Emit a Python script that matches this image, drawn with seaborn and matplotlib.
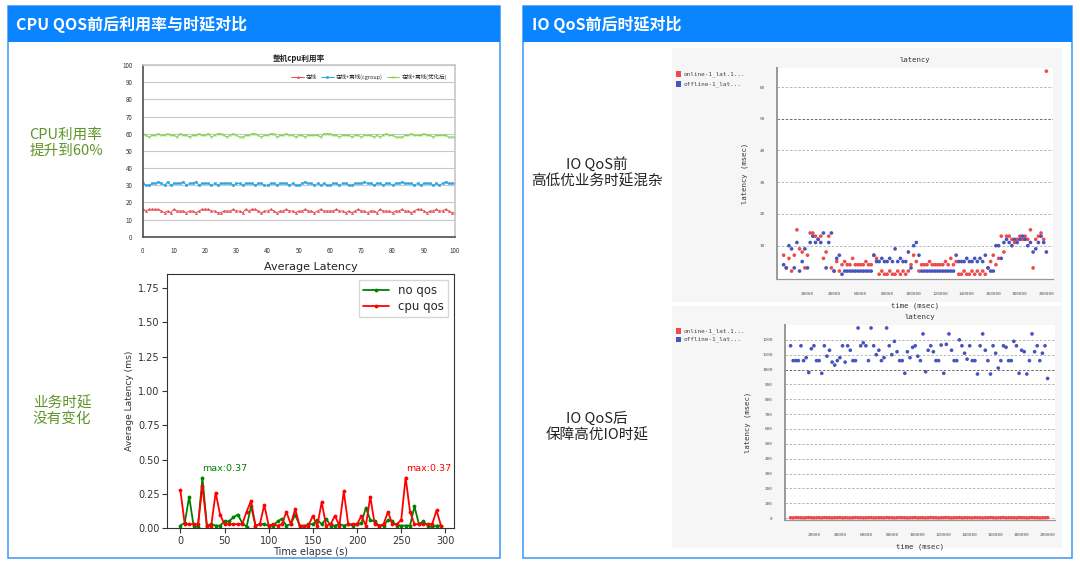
import numpy as np
import pandas as pd
import matplotlib.pyplot as plt
from matplotlib.patches import Rectangle
import seaborn as sns

W, H = 1080, 564

# -------------------------------
# data: cpu utilisation (percent), one sample per x step
# -------------------------------
cpu_x = list(range(101))
cpu_online = [16, 15, 16, 16, 16, 16, 15, 14, 15, 14,
              16, 15, 15, 15, 14, 15, 15, 14, 15, 16,
              16, 16, 15, 15, 14, 14, 15, 15, 15, 16,
              15, 15, 14, 16, 15, 16, 16, 15, 14, 15,
              15, 16, 15, 14, 15, 15, 16, 15, 15, 14,
              15, 15, 16, 15, 15, 14, 15, 16, 15, 15,
              15, 15, 16, 15, 15, 14, 15, 14, 15, 16,
              15, 15, 14, 15, 15, 14, 16, 15, 15, 15,
              14, 15, 15, 16, 15, 15, 14, 15, 16, 16,
              15, 14, 15, 15, 16, 15, 15, 16, 15, 14, 14]
cpu_cgroup = [31, 30, 30, 31, 31, 32, 31, 30, 32, 30,
              31, 31, 31, 32, 30, 31, 31, 32, 30, 31,
              31, 31, 30, 31, 30, 31, 31, 31, 31, 30,
              31, 31, 30, 31, 31, 31, 30, 31, 31, 30,
              30, 31, 31, 30, 31, 31, 31, 30, 31, 30,
              30, 31, 32, 31, 31, 30, 31, 30, 31, 30,
              30, 31, 31, 30, 31, 31, 30, 30, 31, 31,
              31, 32, 31, 31, 30, 31, 31, 30, 31, 31,
              30, 31, 31, 32, 31, 31, 31, 30, 31, 30,
              31, 31, 31, 30, 31, 30, 31, 32, 31, 31, 31]
cpu_optimized = [60, 59, 58, 59, 59, 60, 59, 59, 60, 59,
                 59, 58, 60, 59, 59, 58, 59, 59, 60, 59,
                 59, 60, 58, 59, 60, 60, 59, 58, 59, 60,
                 59, 58, 58, 59, 59, 60, 60, 59, 58, 59,
                 59, 60, 60, 58, 59, 59, 60, 59, 59, 58,
                 59, 59, 58, 59, 59, 59, 59, 58, 60, 60,
                 60, 59, 59, 58, 59, 59, 59, 58, 59, 59,
                 58, 59, 59, 59, 58, 59, 58, 59, 60, 59,
                 59, 58, 58, 58, 59, 59, 60, 59, 59, 59,
                 60, 59, 59, 58, 59, 59, 59, 59, 58, 58, 58]
cpu_labels = ['在线', '在线+离线(cgroup)', '在线+离线(优化后)']

# -------------------------------
# data: average latency (ms) every 5 s
# -------------------------------
lat_time = list(range(0, 300, 5))
lat_no_qos = [0.02, 0.04, 0.23, 0.02, 0.01, 0.37, 0.02, 0.03, 0.02, 0.02,
              0.05, 0.05, 0.08, 0.10, 0.04, 0.01, 0.16, 0.02, 0.03, 0.03,
              0.02, 0.02, 0.05, 0.07, 0.02, 0.03, 0.10, 0.02, 0.01, 0.03,
              0.03, 0.06, 0.03, 0.07, 0.02, 0.02, 0.03, 0.02, 0.03, 0.02,
              0.03, 0.04, 0.15, 0.06, 0.05, 0.02, 0.02, 0.06, 0.05, 0.02,
              0.02, 0.02, 0.02, 0.16, 0.03, 0.05, 0.02, 0.01, 0.02, 0.02]
lat_cpu_qos = [0.28, 0.03, 0.03, 0.03, 0.03, 0.31, 0.02, 0.02, 0.26, 0.10,
               0.03, 0.03, 0.03, 0.03, 0.03, 0.12, 0.20, 0.02, 0.03, 0.17,
               0.02, 0.03, 0.02, 0.03, 0.12, 0.03, 0.14, 0.02, 0.02, 0.02,
               0.09, 0.02, 0.19, 0.02, 0.03, 0.09, 0.02, 0.27, 0.03, 0.03,
               0.03, 0.09, 0.02, 0.23, 0.03, 0.02, 0.03, 0.12, 0.03, 0.03,
               0.06, 0.37, 0.12, 0.03, 0.03, 0.03, 0.03, 0.03, 0.13, 0.02]

# -------------------------------
# data: IO latency (msec), sampled every 2000 msec
# -------------------------------
io_time = list(range(2000, 200001, 2000))
io_online_before = [7, 3, 6, 2, 7, 15, 9, 8, 3, 7,
                    14, 14, 13, 12, 13, 6, 8, 13, 3, 2,
                    5, 2, 4, 5, 4, 4, 6, 4, 4, 4,
                    4, 5, 4, 4, 7, 6, 1, 2, 1, 1,
                    2, 1, 1, 2, 1, 2, 1, 2, 4, 7,
                    5, 2, 4, 4, 4, 5, 4, 4, 4, 4,
                    4, 5, 4, 6, 4, 5, 1, 1, 2, 1,
                    1, 2, 1, 2, 1, 2, 1, 3, 5, 7,
                    4, 6, 13, 8, 13, 13, 12, 11, 12, 13,
                    12, 13, 12, 15, 3, 12, 13, 14, 12, 65]
io_offline_before = [4, 3, 10, 9, 3, 11, 2, 5, 9, 3,
                     11, 13, 11, 12, 11, 14, 3, 11, 14, 2,
                     6, 7, 1, 2, 2, 2, 2, 2, 2, 2,
                     2, 2, 2, 2, 7, 5, 5, 6, 5, 5,
                     6, 5, 9, 5, 6, 5, 5, 8, 3, 10,
                     11, 7, 2, 2, 2, 2, 2, 2, 2, 2,
                     2, 2, 2, 2, 2, 7, 5, 5, 5, 6,
                     5, 5, 6, 5, 6, 5, 7, 3, 2, 2,
                     10, 10, 6, 11, 12, 11, 10, 12, 11, 12,
                     13, 12, 10, 11, 8, 9, 11, 13, 11, 8]
io_online_after = [2, 1, 3, 2, 2, 1, 2, 3, 2, 1,
                   2, 2, 1, 3, 2, 2, 1, 2, 2, 3,
                   1, 2, 2, 1, 2, 3, 2, 2, 1, 2,
                   2, 3, 1, 2, 2, 2, 1, 3, 2, 2,
                   1, 2, 3, 2, 2, 1, 2, 2, 3, 1,
                   2, 2, 1, 2, 3, 2, 2, 1, 2, 2,
                   3, 2, 1, 2, 2, 3, 1, 2, 2, 2,
                   1, 3, 2, 2, 1, 2, 2, 3, 2, 1,
                   2, 2, 3, 1, 2, 2, 2, 1, 3, 2,
                   2, 1, 2, 3, 2, 2, 1, 2, 2, 3]
io_offline_after = [1160, 1060, 1060, 1060, 1160, 1060, 1080, 980, 1140, 1160,
                    1060, 1060, 975, 1160, 1090, 1130, 1050, 1030, 1060, 1080,
                    1160, 1050, 1160, 1130, 1060, 1060, 1280, 1160, 1180, 1160,
                    1060, 1280, 1160, 1100, 1130, 1060, 1080, 1280, 1160, 1100,
                    1190, 1120, 1060, 1060, 975, 1120, 1080, 1150, 1160, 1090,
                    1060, 1240, 985, 1130, 1160, 1120, 1060, 1060, 1165, 975,
                    1170, 1240, 1130, 1060, 1060, 1200, 1160, 1110, 1070, 1160,
                    1060, 1060, 970, 1160, 1240, 1130, 1060, 970, 1160, 1110,
                    1010, 1060, 1160, 1150, 1060, 1060, 1190, 1160, 975, 1130,
                    1120, 970, 1060, 1240, 1120, 1160, 1060, 1110, 1160, 940]
io_labels = ['online-1_lat.1...', 'offline-1_lat...']

# -------------------------------
# figure setup
# -------------------------------
sns.set_theme(style='white')
plt.rcParams['font.family'] = ['Noto Sans CJK SC', 'DejaVu Sans']
plt.rcParams['axes.unicode_minus'] = False

fig = plt.figure(figsize=(W / 100, H / 100), dpi=100)
fig.patch.set_facecolor('white')


def px_axes(l, t, r, b):
    return fig.add_axes([l / W, 1 - b / H, (r - l) / W, (b - t) / H])


def px_rect(l, t, r, b, **kw):
    kw.setdefault('zorder', -10)
    fig.patches.append(Rectangle((l / W, 1 - b / H), (r - l) / W, (b - t) / H,
                                 transform=fig.transFigure, **kw))


def px_text(x, y, s, **kw):
    fig.text(x / W, 1 - y / H, s, **kw)


HEADER = '#0A84FF'
BORDER = '#4A9EF2'
GREEN_TXT = '#5E9526'

# panels with blue headers
px_rect(8, 6, 500, 558, facecolor='white', edgecolor=BORDER, linewidth=1.2, zorder=-20)
px_rect(8, 6, 500, 42, facecolor=HEADER, edgecolor='none')
px_text(16, 24, 'CPU QOS前后利用率与时延对比', color='white', fontsize=11.5,
        fontweight='bold', va='center')
px_rect(523, 6, 1072, 558, facecolor='white', edgecolor=BORDER, linewidth=1.2, zorder=-20)
px_rect(523, 6, 1072, 42, facecolor=HEADER, edgecolor='none')
px_text(532, 24, 'IO QoS前后时延对比', color='white', fontsize=11.5,
        fontweight='bold', va='center')

# side notes
px_text(66, 143, 'CPU利用率\n提升到60%', color=GREEN_TXT, fontsize=10.5,
        fontweight='medium', ha='center', va='center', linespacing=1.2)
px_text(62, 411, '业务时延\n没有变化', color=GREEN_TXT, fontsize=10.5,
        fontweight='medium', ha='center', va='center', linespacing=1.2)
px_text(597, 173, 'IO QoS前\n高低优业务时延混杂', color='#222222', fontsize=10.5,
        fontweight='medium', ha='center', va='center', linespacing=1.2)
px_text(597, 427, 'IO QoS后\n保障高优IO时延', color='#222222', fontsize=10.5,
        fontweight='medium', ha='center', va='center', linespacing=1.2)

# -------------------------------
# 1. CPU utilisation chart
# -------------------------------
ax1 = px_axes(142.7, 65, 455, 236.7)
cpu_colors = ['#E8505B', '#2AA7E0', '#7ED348']
cpu_markers = ['^', 's', 'x']
for vals, col, mk, lab in zip([cpu_online, cpu_cgroup, cpu_optimized],
                              cpu_colors, cpu_markers, cpu_labels):
    sns.lineplot(x=cpu_x, y=vals, ax=ax1, color=col, marker=mk, markersize=1.6,
                 markeredgewidth=0.4, markeredgecolor=col, linewidth=0.7, label=lab)
ax1.set_xlim(0, 100)
ax1.set_ylim(0, 100)
ax1.set_xticks(range(0, 101, 10))
ax1.set_yticks(range(0, 101, 10))
ax1.yaxis.grid(True, color='#C8C8C8', linewidth=0.8)
ax1.tick_params(labelsize=4.5, colors='#333333', pad=1.5)
for side in ['top', 'right']:
    ax1.spines[side].set_color('#C8C8C8')
for side in ['left', 'bottom']:
    ax1.spines[side].set_color('#555555')
ax1.set_title('整机cpu利用率', fontsize=5.5, fontweight='bold', pad=3, color='#222222')
ax1.legend(loc='upper right', bbox_to_anchor=(0.99, 0.98), ncol=3, fontsize=4,
           frameon=False, handlelength=2.2, columnspacing=0.8, handletextpad=0.4)

# -------------------------------
# 2. Average latency chart (matplotlib default look, DejaVu Sans)
# -------------------------------
DV = 'DejaVu Sans'
ax2 = px_axes(167.3, 274.3, 454, 528.3)
sns.lineplot(x=lat_time, y=lat_no_qos, ax=ax2, color='green', marker='.',
             markersize=5.5, markeredgewidth=0, linewidth=1.3, label='no qos')
sns.lineplot(x=lat_time, y=lat_cpu_qos, ax=ax2, color='red', marker='.',
             markersize=5.5, markeredgewidth=0, linewidth=1.3, label='cpu qos')
ax2.set_xlim(-14.75, 309.75)
ax2.set_ylim(0, 1.85)
ax2.set_xticks(range(0, 301, 50))
ax2.set_yticks(np.arange(0, 1.76, 0.25))
ax2.set_yticklabels([f'{v:.2f}' for v in np.arange(0, 1.76, 0.25)])
ax2.tick_params(bottom=True, left=True, length=3.5, width=0.8, labelsize=7,
                colors='#333333', pad=2)
for lab in ax2.get_xticklabels() + ax2.get_yticklabels():
    lab.set_family(DV)
for s in ax2.spines.values():
    s.set_color('#333333')
    s.set_linewidth(0.8)
ax2.set_title('Average Latency', fontsize=8, pad=3, color='#222222', family=DV)
ax2.set_xlabel('Time elapse (s)', fontsize=7, labelpad=1, color='#333333', family=DV)
ax2.set_ylabel('Average Latency (ms)', fontsize=6.6, labelpad=3, color='#333333', family=DV)
ax2.legend(loc='upper right', prop={'family': DV, 'size': 8.5}, frameon=True,
           fancybox=False, edgecolor='#CCCCCC', borderpad=0.35, handlelength=2.2,
           labelspacing=0.25)
i_g = int(np.argmax(lat_no_qos))
i_r = int(np.argmax(lat_cpu_qos))
ax2.text(lat_time[i_g], lat_no_qos[i_g] + 0.03, f'max:{lat_no_qos[i_g]:.2f}',
         color='green', fontsize=6.8, ha='left', va='bottom', family=DV)
ax2.text(lat_time[i_r], lat_cpu_qos[i_r] + 0.03, f'max:{lat_cpu_qos[i_r]:.2f}',
         color='red', fontsize=6.8, ha='left', va='bottom', family=DV)

# -------------------------------
# 3. IO latency scatter charts
# -------------------------------
IO_RED = '#EE4B4B'
IO_BLUE = '#4654BE'
MONO = 'DejaVu Sans Mono'

px_rect(672, 48, 1062, 302, facecolor='#F6F6F6', edgecolor='none')
px_rect(672, 306, 1062, 548, facecolor='#F6F6F6', edgecolor='none')


def io_chart(ax, online, offline, ylim, yticks, dark_at, xlim):
    df = pd.DataFrame({'time': io_time + io_time,
                       'lat': online + offline,
                       'series': [io_labels[0]] * len(online) + [io_labels[1]] * len(offline)})
    sns.scatterplot(data=df, x='time', y='lat', hue='series',
                    palette=[IO_RED, IO_BLUE], s=7, linewidth=0, ax=ax, legend=False)
    ax.set_facecolor('white')
    ax.set_xlim(*xlim)
    ax.set_ylim(*ylim)
    ax.set_yticks(yticks)
    ax.set_xticks(range(20000, 200001, 20000))
    for v in yticks:
        ax.axhline(v, color='#555555' if v == dark_at else '#AAAAAA',
                   linestyle=(0, (3, 2)), linewidth=0.6, zorder=0)
    for side in ['top', 'right']:
        ax.spines[side].set_visible(False)
    ax.spines['left'].set_color('#999999')
    ax.spines['left'].set_linewidth(1.4)
    ax.spines['bottom'].set_color('#999999')
    ax.spines['bottom'].set_linewidth(0.9)
    ax.tick_params(labelsize=3.2, colors='#555555', pad=3)
    for lab in ax.get_xticklabels() + ax.get_yticklabels():
        lab.set_family(MONO)
    ax.set_title('latency', fontsize=5.2, family=MONO, color='#333333', pad=4)
    ax.set_xlabel('time (msec)', fontsize=5.2, family=MONO, color='#333333', labelpad=5)
    ax.set_ylabel('latency (msec)', fontsize=5.2, family=MONO, color='#333333', labelpad=8)


ax3 = px_axes(777, 68, 1053, 279)
io_chart(ax3, io_online_before, io_offline_before, (-0.5, 66),
         [10, 20, 30, 40, 50, 60], 50, (-3000, 205000))
ax4 = px_axes(785, 325, 1055, 520)
io_chart(ax4, io_online_after, io_offline_after, (-13, 1300),
         list(range(0, 1201, 100)), 1000, (-2300, 205700))

# small legends at upper left of each IO image
for y0, col, lab in [(74, IO_RED, io_labels[0]), (84, IO_BLUE, io_labels[1]),
                     (331, IO_RED, io_labels[0]), (339.5, IO_BLUE, io_labels[1])]:
    px_rect(676, y0 - 2.8, 681.5, y0 + 2.8, facecolor=col, edgecolor='none', zorder=2)
    px_text(684, y0, lab, fontsize=4.3, family=MONO, color='#444444', va='center')

fig.savefig('out.png', dpi=100, facecolor='white')
